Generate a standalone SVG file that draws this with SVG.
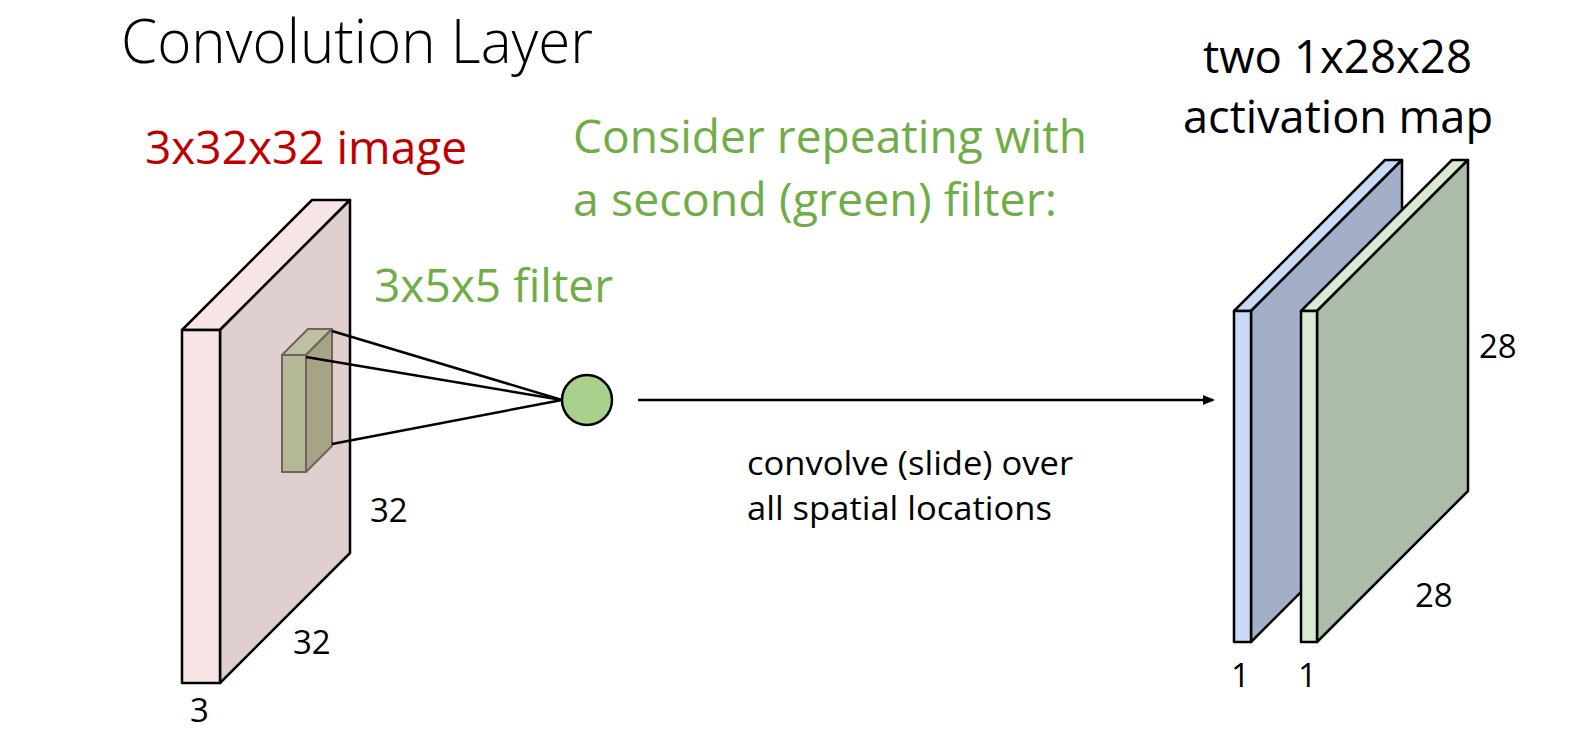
<svg xmlns="http://www.w3.org/2000/svg" width="1594" height="738" viewBox="0 0 1594 738">
  <style>
    .t { font-family: "Open Sans", "Liberation Sans", sans-serif; }
    .big { font-size: 46px; }
    .small { font-size: 33px; fill: #000; }
    .red { fill: #c00000; }
    .green { fill: #70ad47; }
    .edge { stroke: #000; stroke-width: 2.5; stroke-linejoin: round; }
    .fedge { stroke: #6f6360; stroke-width: 2; stroke-linejoin: round; }
    .conn { stroke: #000; stroke-width: 2.5; fill: none; }
  </style>
  <defs>
    <marker id="arrow" markerWidth="12" markerHeight="10" refX="10" refY="5" orient="auto" markerUnits="userSpaceOnUse">
      <polygon points="0,0 12,5 0,10" fill="#000"/>
    </marker>
  </defs>
  <rect width="1594" height="738" fill="#fff"/>

  <text class="t" x="121" y="63" font-size="60" font-weight="300" textLength="472" lengthAdjust="spacingAndGlyphs" fill="#000">Convolution Layer</text>

  <g id="input-volume">
    <polygon class="edge" points="182,330 312,200 350,200 220,330" fill="#f7e4e4"/>
    <polygon class="edge" points="220,330 350,200 350,553 220,683" fill="#dfcfcf"/>
    <rect class="edge" x="182" y="330" width="38" height="353" fill="#f7e4e4"/>
    <text class="t big red" x="145" y="164" textLength="322" lengthAdjust="spacingAndGlyphs">3x32x32 image</text>
    <text class="t small" x="370" y="522">32</text>
    <text class="t small" x="293" y="654">32</text>
    <text class="t small" x="190" y="722">3</text>
  </g>

  <g id="filter">
    <polygon class="fedge" points="282,355 308,329 332,329 306,355" fill="#bfc0a1"/>
    <polygon class="fedge" points="306,355 332,329 332,446 306,472" fill="#a6a387"/>
    <rect class="fedge" x="282" y="355" width="24" height="117" fill="#b5b897"/>
    <text class="t big green" x="374" y="302" textLength="239" lengthAdjust="spacingAndGlyphs">3x5x5 filter</text>
  </g>

  <g id="neuron">
    <circle cx="587" cy="400" r="25" fill="#a9d18e" stroke="#000" stroke-width="2.5"/>
  </g>

  <g id="connectors">
    <line class="conn" x1="332" y1="331" x2="562" y2="400"/>
    <line class="conn" x1="306" y1="357" x2="562" y2="400"/>
    <line class="conn" x1="332" y1="444" x2="562" y2="400"/>
    <line class="conn" x1="638" y1="400" x2="1213" y2="400" marker-end="url(#arrow)"/>
  </g>

  <g id="caption">
    <text class="t big green" x="573" y="153" textLength="514" lengthAdjust="spacingAndGlyphs">Consider repeating with</text>
    <text class="t big green" x="573" y="216" textLength="484" lengthAdjust="spacingAndGlyphs">a second (green) filter:</text>
    <text class="t" x="747" y="475" font-size="32.5" textLength="326" lengthAdjust="spacingAndGlyphs" fill="#000">convolve (slide) over</text>
    <text class="t" x="747" y="520" font-size="32.5" textLength="305" lengthAdjust="spacingAndGlyphs" fill="#000">all spatial locations</text>
  </g>

  <g id="activation-maps">
    <polygon class="edge" points="1234,311 1385,160 1402,160 1251,311" fill="#c9daf6"/>
    <polygon class="edge" points="1251,311 1402,160 1402,491 1251,642" fill="#a3afc8"/>
    <rect class="edge" x="1234" y="311" width="17" height="331" fill="#c9daf6"/>
    <polygon class="edge" points="1301,311 1452,160 1468,160 1317,311" fill="#d9ead3"/>
    <polygon class="edge" points="1317,311 1468,160 1468,491 1317,642" fill="#aebdaa"/>
    <rect class="edge" x="1301" y="311" width="16" height="331" fill="#d9ead3"/>
    <text class="t big" x="1203" y="73" textLength="269" lengthAdjust="spacingAndGlyphs" fill="#000">two 1x28x28</text>
    <text class="t big" x="1183" y="133" textLength="310" lengthAdjust="spacingAndGlyphs" fill="#000">activation map</text>
    <text class="t small" x="1479" y="358">28</text>
    <text class="t small" x="1415" y="607">28</text>
    <text class="t small" x="1231" y="687">1</text>
    <text class="t small" x="1298" y="687">1</text>
  </g>
</svg>
